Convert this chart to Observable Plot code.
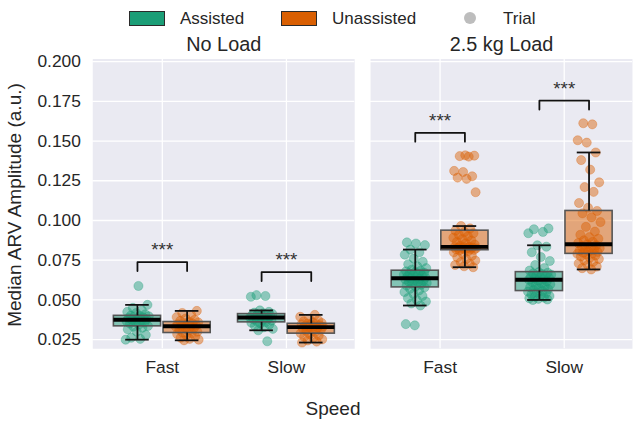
<!DOCTYPE html>
<html>
<head>
<meta charset="utf-8">
<script src="https://cdn.jsdelivr.net/npm/d3@7"></script>
<script src="https://cdn.jsdelivr.net/npm/@observablehq/plot@0.6"></script>
<style>
  html, body { margin: 0; padding: 0; background: white; overflow: hidden; }
  #wrap { position: relative; width: 633px; height: 423px; overflow: hidden; font-family: "Liberation Sans", Arial, sans-serif; color: #262626; }
  #chart { position: absolute; left: 0; top: 0; }
  .lg { position: absolute; font-size: 17px; line-height: 17px; }
  .patch { position: absolute; box-sizing: border-box; border: 1.5px solid #2b2b2b; }
  .ylab { position: absolute; left: 15px; top: 205px; transform: translate(-50%, -50%) rotate(-90deg); white-space: nowrap; font-size: 19px; }
  .xlab { position: absolute; left: 333px; top: 409px; transform: translate(-50%, -50%); white-space: nowrap; font-size: 19px; }
</style>
</head>
<body>
<div id="wrap">
  <div id="chart"></div>
</div>
<script>
// ---- Data ----
const loads = ["No Load", "2.5 kg Load"];
const speeds = ["Fast", "Slow"];
const hues = ["Assisted", "Unassisted"];
const hueColors = ["#1b9e77", "#d95f02"];
const yTicks = [0.025, 0.05, 0.075, 0.1, 0.125, 0.15, 0.175, 0.2];

const noLoadFastAssisted = [0.0250, 0.0255, 0.0262, 0.0280, 0.0300, 0.0315, 0.0325, 0.0332, 0.0336, 0.0345, 0.0352, 0.0358, 0.0363, 0.0368, 0.0372, 0.0375, 0.0378, 0.0382, 0.0386, 0.0390, 0.0394, 0.0397, 0.0399, 0.0401, 0.0410, 0.0418, 0.0425, 0.0435, 0.0450, 0.0469, 0.0588];
const noLoadFastUnassisted = [0.0246, 0.0250, 0.0255, 0.0262, 0.0270, 0.0278, 0.0285, 0.0290, 0.0294, 0.0300, 0.0308, 0.0315, 0.0322, 0.0327, 0.0331, 0.0334, 0.0337, 0.0340, 0.0343, 0.0347, 0.0351, 0.0355, 0.0359, 0.0363, 0.0368, 0.0375, 0.0383, 0.0392, 0.0405, 0.0418, 0.0431];
const noLoadSlowAssisted = [0.0240, 0.0309, 0.0318, 0.0328, 0.0338, 0.0346, 0.0352, 0.0357, 0.0361, 0.0366, 0.0370, 0.0374, 0.0378, 0.0382, 0.0386, 0.0390, 0.0393, 0.0396, 0.0399, 0.0402, 0.0405, 0.0408, 0.0410, 0.0412, 0.0416, 0.0420, 0.0425, 0.0434, 0.0520, 0.0525, 0.0530];
const noLoadSlowUnassisted = [0.0232, 0.0238, 0.0245, 0.0252, 0.0260, 0.0268, 0.0276, 0.0285, 0.0291, 0.0298, 0.0305, 0.0311, 0.0317, 0.0321, 0.0325, 0.0329, 0.0332, 0.0335, 0.0338, 0.0341, 0.0344, 0.0347, 0.0349, 0.0351, 0.0355, 0.0360, 0.0366, 0.0373, 0.0382, 0.0394, 0.0406];
const loadFastAssisted = [0.0340, 0.0348, 0.0465, 0.0478, 0.0490, 0.0500, 0.0512, 0.0525, 0.0538, 0.0550, 0.0560, 0.0570, 0.0579, 0.0585, 0.0590, 0.0596, 0.0602, 0.0607, 0.0612, 0.0616, 0.0620, 0.0625, 0.0629, 0.0633, 0.0636, 0.0640, 0.0644, 0.0648, 0.0652, 0.0656, 0.0660, 0.0664, 0.0668, 0.0672, 0.0676, 0.0680, 0.0684, 0.0690, 0.0700, 0.0712, 0.0725, 0.0740, 0.0760, 0.0785, 0.0800, 0.0817, 0.0845, 0.0855, 0.0862];
const loadFastUnassisted = [0.0706, 0.0712, 0.0720, 0.0728, 0.0738, 0.0748, 0.0758, 0.0768, 0.0778, 0.0790, 0.0800, 0.0808, 0.0813, 0.0815, 0.0817, 0.0819, 0.0821, 0.0823, 0.0825, 0.0827, 0.0829, 0.0830, 0.0831, 0.0833, 0.0834, 0.0840, 0.0848, 0.0856, 0.0865, 0.0874, 0.0883, 0.0892, 0.0900, 0.0910, 0.0920, 0.0928, 0.0936, 0.0950, 0.0965, 0.1178, 0.1262, 0.1270, 0.1278, 0.1305, 0.1312, 0.1402, 0.1405, 0.1408, 0.1410];
const loadSlowAssisted = [0.0500, 0.0503, 0.0507, 0.0511, 0.0515, 0.0520, 0.0525, 0.0530, 0.0536, 0.0542, 0.0547, 0.0552, 0.0556, 0.0562, 0.0568, 0.0574, 0.0580, 0.0586, 0.0592, 0.0598, 0.0605, 0.0611, 0.0617, 0.0622, 0.0627, 0.0631, 0.0635, 0.0639, 0.0643, 0.0647, 0.0651, 0.0655, 0.0659, 0.0663, 0.0667, 0.0671, 0.0675, 0.0685, 0.0700, 0.0720, 0.0745, 0.0770, 0.0800, 0.0835, 0.0844, 0.0920, 0.0928, 0.0945, 0.0950];
const loadSlowUnassisted = [0.0692, 0.0700, 0.0710, 0.0720, 0.0730, 0.0740, 0.0750, 0.0758, 0.0766, 0.0774, 0.0780, 0.0786, 0.0790, 0.0794, 0.0798, 0.0802, 0.0806, 0.0810, 0.0815, 0.0820, 0.0826, 0.0832, 0.0838, 0.0844, 0.0850, 0.0858, 0.0866, 0.0875, 0.0885, 0.0895, 0.0910, 0.0930, 0.0960, 0.0990, 0.1020, 0.1045, 0.1060, 0.1080, 0.1110, 0.1180, 0.1210, 0.1240, 0.1320, 0.1380, 0.1428, 0.1490, 0.1505, 0.1605, 0.1612];

// significance brackets (top of bracket, in data units)
const bracketLoads = ["No Load", "No Load", "2.5 kg Load", "2.5 kg Load"];
const bracketSpeeds = ["Fast", "Slow", "Fast", "Slow"];
const bracketTops = [0.0738, 0.0675, 0.1552, 0.1754];
const bracketLabels = ["***", "***", "***", "***"];

// ---- Build tables ----
const groups = [
  ["No Load", "Fast", "Assisted", noLoadFastAssisted],
  ["No Load", "Fast", "Unassisted", noLoadFastUnassisted],
  ["No Load", "Slow", "Assisted", noLoadSlowAssisted],
  ["No Load", "Slow", "Unassisted", noLoadSlowUnassisted],
  ["2.5 kg Load", "Fast", "Assisted", loadFastAssisted],
  ["2.5 kg Load", "Fast", "Unassisted", loadFastUnassisted],
  ["2.5 kg Load", "Slow", "Assisted", loadSlowAssisted],
  ["2.5 kg Load", "Slow", "Unassisted", loadSlowUnassisted]
];
const HUE_OFF = 0.2, BOX_HW = 0.19, CAP_HW = 0.095, JIT = 0.19;
const center = (speed, hue) => speeds.indexOf(speed) + (hue === "Assisted" ? -HUE_OFF : HUE_OFF);

const points = [];
const stats = [];
groups.forEach(([load, speed, hue, vals], g) => {
  vals.forEach((v, i) => {
    const j = ((i * 0.6180339887 + g * 0.37) % 1) - 0.5; // deterministic strip jitter
    points.push({load, speed, hue, value: v, xpos: center(speed, hue) + j * JIT});
  });
  const s = vals.slice().sort(d3.ascending);
  const q1 = d3.quantile(s, 0.25), med = d3.quantile(s, 0.5), q3 = d3.quantile(s, 0.75);
  const iqr = q3 - q1;
  const hi = d3.max(s.filter(v => v <= q3 + 1.5 * iqr));
  const lo = d3.min(s.filter(v => v >= q1 - 1.5 * iqr));
  stats.push({load, speed, hue, q1, med, q3, lo, hi, c: center(speed, hue)});
});

const brackets = bracketTops.map((t, i) => ({
  load: bracketLoads[i], speed: bracketSpeeds[i], top: t, label: bracketLabels[i],
  c: speeds.indexOf(bracketSpeeds[i])
}));
const ARM = 0.0056;
const bracketPaths = brackets.flatMap((b, i) => [
  {id: i, load: b.load, x: b.c - HUE_OFF, y: b.top - ARM},
  {id: i, load: b.load, x: b.c - HUE_OFF, y: b.top},
  {id: i, load: b.load, x: b.c + HUE_OFF, y: b.top},
  {id: i, load: b.load, x: b.c + HUE_OFF, y: b.top - ARM}
]);

const chart = Plot.plot({
  width: 638,
  height: 423,
  marginTop: 59,
  marginBottom: 72,
  marginLeft: 92,
  marginRight: 0,
  style: {fontFamily: '"Liberation Sans", Arial, sans-serif', color: "#262626", background: "white", overflow: "visible"},
  fx: {domain: loads, paddingInner: 0.056, paddingOuter: 0, label: null},
  x: {domain: [-0.56, 1.55], axis: null},
  y: {domain: [0.0193, 0.2016], axis: null},
  color: {domain: hues, range: hueColors},
  marks: [
    Plot.frame({fill: "#eaeaf2", stroke: null}),
    Plot.gridY(yTicks, {stroke: "white", strokeOpacity: 1, strokeWidth: 1.3}),
    Plot.gridX([0, 1], {stroke: "white", strokeOpacity: 1, strokeWidth: 1.3}),
    Plot.axisY(yTicks, {tickFormat: d3.format(".3f"), tickSize: 0, tickPadding: 12, fontSize: 17.5, label: null}),
    Plot.axisX([0, 1], {tickFormat: i => speeds[i], tickSize: 0, tickPadding: 12, fontSize: 17.5, label: null}),
    Plot.axisFx({anchor: "top", tickSize: 0, tickPadding: 8, fontSize: 20, label: null}),
    // box fill
    Plot.rect(stats, {fx: "load", x1: d => d.c - BOX_HW, x2: d => d.c + BOX_HW, y1: "q1", y2: "q3", fill: "hue", fillOpacity: 0.5}),
    // trial points
    Plot.dot(points, {fx: "load", x: "xpos", y: "value", r: 4.6, fill: "hue", fillOpacity: 0.45, stroke: "hue", strokeOpacity: 0.3, strokeWidth: 1}),
    // box outline
    Plot.rect(stats, {fx: "load", x1: d => d.c - BOX_HW, x2: d => d.c + BOX_HW, y1: "q1", y2: "q3", fill: "none", stroke: "#555", strokeWidth: 1.6}),
    // whiskers
    Plot.ruleX(stats, {fx: "load", x: "c", y1: "q3", y2: "hi", stroke: "#111", strokeWidth: 1.8}),
    Plot.ruleX(stats, {fx: "load", x: "c", y1: "lo", y2: "q1", stroke: "#111", strokeWidth: 1.8}),
    Plot.ruleY(stats, {fx: "load", y: "hi", x1: d => d.c - CAP_HW, x2: d => d.c + CAP_HW, stroke: "#111", strokeWidth: 1.8}),
    Plot.ruleY(stats, {fx: "load", y: "lo", x1: d => d.c - CAP_HW, x2: d => d.c + CAP_HW, stroke: "#111", strokeWidth: 1.8}),
    // median
    Plot.ruleY(stats, {fx: "load", y: "med", x1: d => d.c - BOX_HW, x2: d => d.c + BOX_HW, stroke: "black", strokeWidth: 4}),
    // significance brackets
    Plot.line(bracketPaths, {fx: "load", x: "x", y: "y", z: "id", stroke: "#111", strokeWidth: 1.8, curve: "linear"}),
    Plot.text(brackets, {fx: "load", x: "c", y: "top", text: "label", dy: -12, fontSize: 19, fill: "#333"})
  ]
});
document.getElementById("chart").appendChild(chart);

// legend and shared labels
const wrap = document.getElementById("wrap");
const legendItems = [
  {kind: "patch", color: hueColors[0], x: 129, label: hues[0], tx: 180},
  {kind: "patch", color: hueColors[1], x: 281, label: hues[1], tx: 332},
  {kind: "dot", color: "#bdbdbd", x: 464, label: "Trial", tx: 503}
];
legendItems.forEach(it => {
  const m = document.createElement("div");
  if (it.kind === "patch") {
    m.className = "patch";
    Object.assign(m.style, {left: it.x + "px", top: "11px", width: "36px", height: "15px", background: it.color});
  } else {
    m.className = "patch";
    Object.assign(m.style, {left: it.x + "px", top: "12px", width: "12px", height: "12px", background: it.color, border: "none", borderRadius: "50%"});
  }
  wrap.appendChild(m);
  const t = document.createElement("div");
  t.className = "lg";
  t.textContent = it.label;
  Object.assign(t.style, {left: it.tx + "px", top: "10px"});
  wrap.appendChild(t);
});
const yl = document.createElement("div");
yl.className = "ylab"; yl.textContent = "Median ARV Amplitude (a.u.)";
wrap.appendChild(yl);
const xl = document.createElement("div");
xl.className = "xlab"; xl.textContent = "Speed";
wrap.appendChild(xl);
</script>
</body>
</html>
